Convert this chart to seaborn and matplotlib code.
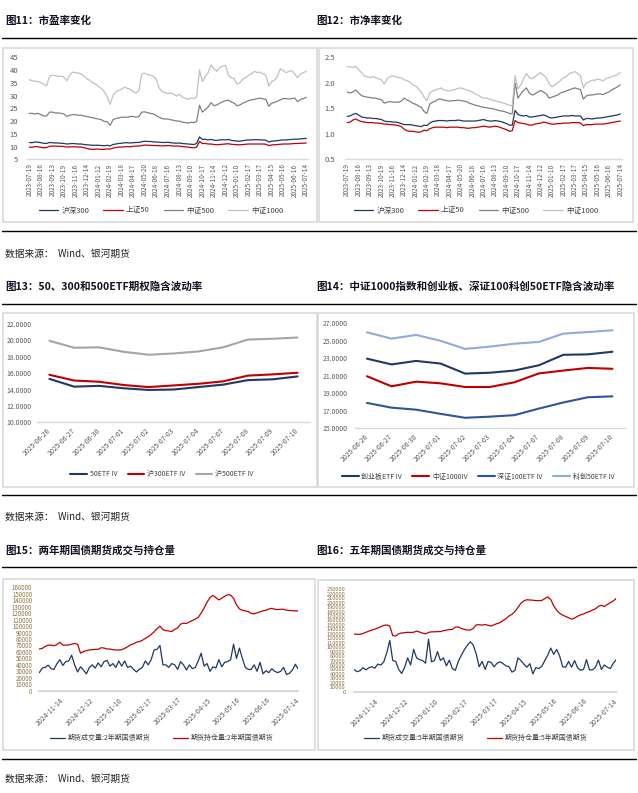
import numpy as np
import pandas as pd
import matplotlib
matplotlib.use("Agg")
import matplotlib.pyplot as plt
import seaborn as sns
from matplotlib.lines import Line2D
from matplotlib.patches import Rectangle

W, H = 638, 793

# ---------------- 图11 / 图12 : PE 与 PB（每5个交易日取一点） ----------------
day_labels_1 = ['2023-07-19', '2023-08-16', '2023-09-13', '2023-10-19', '2023-11-16',
                '2023-12-14', '2024-01-12', '2024-02-19', '2024-03-18', '2024-04-17',
                '2024-05-20', '2024-06-18', '2024-07-16', '2024-08-13', '2024-09-10',
                '2024-10-17', '2024-11-14', '2024-12-12', '2025-01-10', '2025-02-17',
                '2025-03-17', '2025-04-15', '2025-05-16', '2025-06-16', '2025-07-14']
idx_names = ['沪深300', '上证50', '中证500', '中证1000']

pe_hs300 = [11.6, 11.5, 11.8, 11.7, 11.5, 11.3, 11.2, 11.6, 11.5, 11.4,
            11.4, 11.3, 11.2, 11.0, 11.1, 11.2, 11.1, 11.0, 11.0, 10.8,
            10.7, 10.6, 10.5, 10.5, 10.5, 10.4, 10.3, 10.5, 10.2, 10.8,
            11.0, 11.2, 11.3, 11.5, 11.5, 11.4, 11.5, 11.6, 11.6, 11.9,
            12.1, 12.0, 12.0, 11.8, 11.8, 11.7, 11.6, 11.6, 11.7, 11.5,
            11.4, 11.3, 11.4, 11.2, 11.1, 11.0, 10.9, 10.8, 11.2, 13.8,
            12.8, 12.9, 12.6, 12.8, 12.5, 12.4, 12.6, 12.7, 12.6, 12.8,
            12.4, 12.3, 12.1, 12.1, 12.3, 12.5, 12.6, 12.6, 12.7, 12.7,
            12.6, 12.6, 12.5, 11.8, 12.1, 12.2, 12.3, 12.5, 12.6, 12.6,
            12.7, 12.8, 12.9, 12.9, 13.0, 13.1, 13.2]
pe_sz50 = [9.8, 9.7, 10.0, 9.9, 9.7, 9.5, 9.6, 10.1, 10.2, 10.2,
           10.1, 10.1, 10.0, 9.8, 9.9, 9.9, 9.9, 9.8, 9.8, 9.5,
           9.2, 9.0, 8.9, 9.0, 9.0, 8.9, 8.9, 9.1, 9.0, 9.4,
           9.6, 9.8, 9.8, 9.9, 10.0, 9.9, 10.1, 10.2, 10.2, 10.4,
           10.6, 10.5, 10.5, 10.4, 10.4, 10.3, 10.3, 10.3, 10.4, 10.3,
           10.2, 10.2, 10.2, 10.0, 9.9, 9.8, 9.6, 9.5, 9.8, 12.0,
           11.2, 11.2, 11.0, 11.0, 10.8, 10.7, 10.8, 10.9, 11.0, 11.1,
           10.9, 10.8, 10.7, 10.7, 10.8, 10.9, 11.0, 11.0, 11.0, 11.0,
           11.0, 11.0, 10.9, 10.4, 10.6, 10.7, 10.8, 10.9, 11.0, 11.0,
           11.0, 11.1, 11.2, 11.2, 11.3, 11.3, 11.4]
pe_zz500 = [23.0, 23.0, 22.8, 23.0, 22.5, 22.0, 22.0, 23.5, 23.5, 23.2,
            23.2, 23.0, 22.8, 21.8, 22.3, 22.5, 22.5, 22.3, 22.3, 22.0,
            21.8, 21.5, 21.3, 21.0, 20.8, 20.5, 19.8, 19.8, 18.3, 20.5,
            21.0, 21.2, 21.5, 21.5, 21.5, 21.8, 21.8, 21.5, 21.8, 23.5,
            23.6, 23.3, 23.0, 22.8, 22.2, 21.5, 21.0, 20.8, 20.8, 20.5,
            20.3, 20.0, 20.0, 19.6, 19.4, 19.2, 19.5, 19.4, 19.8, 26.2,
            23.5, 24.5, 25.5, 27.2, 26.0, 26.3, 27.0, 27.5, 28.0, 28.2,
            27.5, 27.0, 26.0, 26.3, 27.0, 27.5, 28.0, 28.3, 28.5, 28.8,
            29.0, 28.7, 28.5, 25.8, 27.0, 27.3, 27.8, 28.3, 28.8, 28.8,
            28.6, 28.8, 29.0, 27.6, 28.5, 28.8, 29.3]
pe_zz1000 = [36.2, 35.8, 35.6, 35.5, 35.0, 34.5, 33.8, 37.5, 38.0, 37.8,
             37.5, 37.6, 37.2, 35.8, 38.0, 39.2, 39.0, 38.8, 38.5, 37.5,
             36.5, 36.0, 35.0, 34.5, 33.5, 32.8, 31.5, 29.5, 26.5, 30.0,
             31.5, 32.0, 32.5, 33.3, 32.8, 32.5, 31.5, 31.0, 32.0, 38.5,
             38.8, 38.2, 38.0, 37.5, 36.5, 33.0, 31.5, 31.2, 30.8, 31.0,
             30.5, 29.8, 30.5, 29.5, 29.0, 28.5, 29.0, 28.8, 29.5, 40.0,
             35.5, 37.5, 39.0, 42.0, 40.5, 39.5, 41.0, 41.5, 41.8, 38.0,
             37.0, 36.5, 34.5, 35.0, 36.5, 37.0, 38.0, 38.5, 39.5, 39.0,
             39.2, 38.5, 38.0, 33.8, 35.5, 36.0, 37.5, 40.5, 39.8, 39.0,
             39.5, 39.8, 38.5, 37.0, 38.5, 39.0, 39.5]

pb_hs300 = [1.34, 1.35, 1.38, 1.40, 1.37, 1.33, 1.32, 1.31, 1.31, 1.30,
            1.30, 1.29, 1.28, 1.25, 1.24, 1.24, 1.23, 1.23, 1.22, 1.20,
            1.18, 1.18, 1.18, 1.17, 1.16, 1.15, 1.14, 1.17, 1.16, 1.21,
            1.24, 1.25, 1.26, 1.26, 1.26, 1.25, 1.26, 1.26, 1.26, 1.27,
            1.26, 1.25, 1.25, 1.25, 1.25, 1.25, 1.26, 1.27, 1.28, 1.26,
            1.25, 1.25, 1.26, 1.25, 1.24, 1.22, 1.20, 1.17, 1.17, 1.46,
            1.38, 1.36, 1.35, 1.36, 1.33, 1.33, 1.34, 1.35, 1.36, 1.37,
            1.35, 1.32, 1.31, 1.32, 1.33, 1.34, 1.35, 1.35, 1.35, 1.36,
            1.35, 1.35, 1.35, 1.27, 1.30, 1.30, 1.29, 1.30, 1.31, 1.31,
            1.32, 1.33, 1.34, 1.35, 1.36, 1.37, 1.39]
pb_sz50 = [1.22, 1.23, 1.27, 1.29, 1.26, 1.24, 1.23, 1.22, 1.22, 1.22,
           1.21, 1.21, 1.20, 1.19, 1.19, 1.18, 1.18, 1.17, 1.16, 1.14,
           1.09, 1.06, 1.05, 1.05, 1.04, 1.03, 1.04, 1.07, 1.06, 1.10,
           1.12, 1.13, 1.13, 1.13, 1.13, 1.12, 1.13, 1.13, 1.13, 1.13,
           1.12, 1.12, 1.11, 1.11, 1.12, 1.12, 1.13, 1.14, 1.15, 1.14,
           1.13, 1.14, 1.15, 1.14, 1.12, 1.10, 1.08, 1.05, 1.06, 1.26,
           1.22, 1.21, 1.20, 1.19, 1.17, 1.17, 1.19, 1.20, 1.21, 1.23,
           1.22, 1.20, 1.19, 1.19, 1.20, 1.20, 1.21, 1.21, 1.21, 1.22,
           1.22, 1.22, 1.21, 1.16, 1.18, 1.18, 1.18, 1.19, 1.19, 1.19,
           1.19, 1.20, 1.21, 1.22, 1.23, 1.24, 1.25]
pb_zz500 = [1.82, 1.80, 1.82, 1.86, 1.80, 1.75, 1.73, 1.72, 1.71, 1.70,
            1.70, 1.68, 1.67, 1.60, 1.62, 1.63, 1.62, 1.62, 1.62, 1.64,
            1.70, 1.66, 1.64, 1.60, 1.58, 1.55, 1.52, 1.44, 1.40, 1.58,
            1.62, 1.64, 1.68, 1.68, 1.66, 1.65, 1.64, 1.65, 1.65, 1.66,
            1.65, 1.64, 1.63, 1.60, 1.58, 1.56, 1.55, 1.53, 1.52, 1.51,
            1.50, 1.49, 1.48, 1.46, 1.45, 1.44, 1.42, 1.40, 1.39, 2.00,
            1.70, 1.78, 1.85, 1.90, 1.80, 1.76, 1.78, 1.82, 1.85, 1.82,
            1.78, 1.70, 1.72, 1.74, 1.76, 1.80, 1.82, 1.84, 1.86, 1.88,
            1.90, 1.88, 1.87, 1.68, 1.74, 1.76, 1.76, 1.77, 1.78, 1.78,
            1.77, 1.80, 1.82, 1.86, 1.89, 1.92, 1.96]
pb_zz1000 = [2.32, 2.31, 2.30, 2.32, 2.26, 2.20, 2.14, 2.12, 2.10, 2.12,
             2.10, 2.08, 2.06, 1.98, 2.08, 2.12, 2.14, 2.12, 2.10, 2.10,
             2.06, 2.04, 2.02, 1.96, 1.94, 1.88, 1.82, 1.72, 1.65, 1.80,
             1.84, 1.86, 1.88, 1.90, 1.86, 1.85, 1.84, 1.86, 1.87, 1.89,
             1.90, 1.88, 1.86, 1.84, 1.82, 1.78, 1.76, 1.72, 1.70, 1.70,
             1.68, 1.66, 1.65, 1.63, 1.62, 1.60, 1.58, 1.56, 1.55, 2.14,
             1.88, 1.96, 2.08, 2.18, 2.10, 2.08, 2.12, 2.16, 2.20, 2.15,
             2.10, 1.98, 1.92, 1.96, 2.00, 2.05, 2.10, 2.12, 2.18, 2.20,
             2.22, 2.18, 2.14, 1.90, 2.00, 2.02, 2.05, 2.05, 2.07, 2.06,
             2.04, 2.08, 2.10, 2.12, 2.14, 2.16, 2.20]

# ---------------- 图13 / 图14 : 隐含波动率 ----------------
iv_dates = ['2025-06-26', '2025-06-27', '2025-06-30', '2025-07-01', '2025-07-02', '2025-07-03',
            '2025-07-04', '2025-07-07', '2025-07-08', '2025-07-09', '2025-07-10']
iv_50etf = [15.3, 14.35, 14.45, 14.15, 13.95, 14.0, 14.3, 14.6, 15.15, 15.25, 15.6]
iv_300etf = [15.8, 15.1, 14.95, 14.55, 14.3, 14.5, 14.7, 15.0, 15.7, 15.85, 16.05]
iv_500etf = [19.95, 19.1, 19.15, 18.6, 18.25, 18.4, 18.65, 19.15, 20.1, 20.2, 20.35]
iv_cyb = [22.96, 22.3, 22.7, 22.4, 21.25, 21.35, 21.6, 22.2, 23.4, 23.45, 23.75]
iv_zz1000 = [20.95, 19.8, 20.33, 20.14, 19.72, 19.72, 20.25, 21.27, 21.6, 21.9, 21.8]
iv_sz100 = [17.9, 17.36, 17.13, 16.65, 16.2, 16.33, 16.5, 17.25, 17.95, 18.55, 18.65]
iv_kc50 = [25.97, 25.25, 25.67, 25.0, 24.07, 24.33, 24.67, 24.87, 25.82, 26.0, 26.2]

# ---------------- 图15 / 图16 : 国债期货成交与持仓（每2个交易日取一点） ----------------
bond_labels = ['2024-11-14', '2024-12-12', '2025-01-10', '2025-02-17', '2025-03-17',
               '2025-04-15', '2025-05-16', '2025-06-16', '2025-07-14']
vol_2y = [28000, 35000, 36000, 39500, 34000, 33000, 42000, 48000, 39000, 45000,
          46000, 55000, 40000, 29000, 37000, 32000, 26000, 36000, 40000, 35000,
          43000, 37000, 45000, 47000, 38000, 42000, 36000, 46000, 38000, 46000,
          36000, 38000, 33000, 29000, 33000, 36000, 46000, 40000, 48000, 63000,
          64000, 70000, 40000, 40000, 36000, 42000, 40000, 33000, 45000, 40000,
          32000, 40000, 34000, 36000, 46000, 58000, 38000, 42000, 30000, 37000,
          35000, 48000, 37000, 44000, 45000, 48000, 72000, 50000, 66000, 50000,
          36000, 33000, 33000, 40000, 30000, 44000, 26000, 31000, 28000, 34000,
          30000, 28000, 30000, 36000, 25000, 27000, 32000, 41000, 33000]
oi_2y = [64500, 65500, 68500, 70500, 70500, 69500, 71500, 75000, 70500, 70500,
         70800, 72000, 73000, 72000, 58000, 60500, 62000, 63000, 63500, 64000,
         64000, 66500, 66000, 64500, 64500, 63500, 63000, 63000, 63500, 65500,
         68000, 71000, 72500, 75000, 76000, 78000, 81000, 83500, 87000, 91000,
         96000, 100000, 94500, 93000, 92500, 91500, 95000, 97000, 103000, 104500,
         104000, 106500, 108500, 111000, 113500, 120000, 128000, 137000, 144000, 147500,
         144000, 140500, 143000, 146000, 148500, 148000, 143000, 133000, 126500, 124500,
         123500, 122500, 119500, 119000, 120500, 122000, 123500, 124500, 126500, 127500,
         126000, 125500, 126000, 126000, 124500, 124000, 124000, 123500, 123500]
vol_5y = [50000, 45000, 47000, 54000, 49000, 54000, 56000, 53000, 62000, 60000,
          67000, 88000, 115000, 70000, 68000, 50000, 41000, 55000, 76000, 60000,
          95000, 76000, 72000, 70000, 64000, 118000, 67000, 70000, 90000, 70000,
          76000, 58000, 71000, 52000, 48000, 68000, 82000, 94000, 104000, 112000,
          105000, 85000, 56000, 68000, 50000, 68000, 66000, 56000, 64000, 67000,
          63000, 58000, 56000, 44000, 48000, 76000, 70000, 62000, 55000, 63000,
          40000, 54000, 52000, 57000, 70000, 82000, 98000, 84000, 95000, 80000,
          56000, 55000, 68000, 55000, 70000, 54000, 48000, 50000, 72000, 49000,
          49000, 55000, 71000, 50000, 60000, 55000, 52000, 64000, 72000]
oi_5y = [129500, 129000, 128800, 130500, 133500, 136000, 138500, 140500, 143000, 146000,
         149000, 150000, 147500, 126000, 125000, 130000, 132000, 132500, 133500, 133000,
         133500, 136000, 134000, 131500, 130000, 133000, 134500, 134500, 135000, 135000,
         137000, 138500, 139500, 140000, 145000, 145500, 142000, 140000, 138500, 138500,
         142000, 150000, 150500, 149500, 151000, 149000, 147500, 150500, 153000, 155000,
         160000, 164000, 170000, 174000, 180000, 189000, 199000, 204000, 206500, 206000,
         205500, 204500, 204500, 205000, 209000, 213000, 207000, 193000, 183000, 176000,
         172000, 169000, 166000, 163000, 165500, 169500, 172500, 174500, 178000, 180000,
         183500, 186000, 192000, 194000, 191500, 196000, 200000, 204000, 209500]

NAVY, RED, GREY, LGREY = '#1f3864', '#c00000', '#808080', '#c0c0c0'
TICK_C = '#595959'

sns.set_style("white")
plt.rcParams['font.family'] = ['Noto Sans CJK SC', 'DejaVu Sans']
plt.rcParams['axes.unicode_minus'] = False

fig = plt.figure(figsize=(W / 100, H / 100), dpi=100)


def fx(x):
    return x / W


def fy(y):
    return 1 - y / H


def px_axes(l, t, r, b):
    ax = fig.add_axes([fx(l), fy(b), (r - l) / W, (b - t) / H])
    ax.patch.set_alpha(0)
    return ax


def hrule(y):
    fig.add_artist(Line2D([fx(2), fx(636)], [fy(y), fy(y)], color='black', lw=1.0))


def frame(x0, y0, x1, y1):
    fig.add_artist(Rectangle((fx(x0), fy(y1)), (x1 - x0) / W, (y1 - y0) / H,
                             fill=False, ec='#d9d9d9', lw=1.2))


def draw(ax, step, series, names, colors, lw):
    parts = []
    for name, vals in zip(names, series):
        parts.append(pd.DataFrame({'x': np.arange(len(vals)) * step, 'v': vals, 's': name}))
    df = pd.concat(parts, ignore_index=True)
    sns.lineplot(data=df, x='x', y='v', hue='s', hue_order=names, palette=colors,
                 linewidth=lw, estimator=None, ax=ax)
    ax.set_xlabel('')
    ax.set_ylabel('')


def tidy(ax, ylim, yticks, yfmt, ycolor, yfs, ypad):
    ax.set_ylim(ylim)
    ax.set_yticks(yticks)
    ax.set_yticklabels([yfmt.format(v) for v in yticks], fontsize=yfs, color=ycolor)
    for s in ['top', 'right', 'left']:
        ax.spines[s].set_visible(False)
    ax.spines['bottom'].set_color('#d9d9d9')
    ax.spines['bottom'].set_linewidth(1.0)
    ax.tick_params(axis='both', length=0)
    ax.tick_params(axis='y', pad=ypad)
    ax.grid(False)


def legend(ax, cx, cy, fs, hl, cs):
    sns.move_legend(ax, 'center', bbox_to_anchor=(fx(cx), fy(cy)), bbox_transform=fig.transFigure,
                    ncol=4, frameon=False, title=None, fontsize=fs, handlelength=hl,
                    columnspacing=cs, handletextpad=0.4, labelcolor='#404040')


# ---- section lines, frames, titles ----
for y in [38.3, 231, 304.3, 495, 567.3, 759.3]:
    hrule(y)
frame(3, 48, 317, 222)
frame(319, 48, 633, 222)
frame(3, 313.3, 317, 487)
frame(318, 313.3, 634, 487)
frame(3, 579.3, 315, 750)
frame(318, 580, 634, 750)

tkw = dict(fontsize=7.6, fontweight='bold', va='center', color='#111122')
fig.text(fx(5), fy(20.7), '图11：市盈率变化', **tkw)
fig.text(fx(316), fy(20.7), '图12：市净率变化', **tkw)
fig.text(fx(5), fy(286.7), '图13：50、300和500ETF期权隐含波动率', **tkw)
fig.text(fx(316), fy(286.7), '图14：中证1000指数和创业板、深证100科创50ETF隐含波动率', **tkw)
fig.text(fx(5), fy(550), '图15：两年期国债期货成交与持仓量', **tkw)
fig.text(fx(316), fy(550), '图16：五年期国债期货成交与持仓量', **tkw)
for y in [254, 517, 779]:
    fig.text(fx(5), fy(y), '数据来源：  Wind、银河期货', fontsize=7, va='center', color='#222222')

# ---- 图11 ----
ax1 = px_axes(26.7, 57.3, 308, 159.3)
draw(ax1, 5, [pe_hs300, pe_sz50, pe_zz500, pe_zz1000], idx_names, [NAVY, RED, GREY, LGREY], 0.9)
ax1.set_xlim(-4.5, 483)
ax1.set_xticks(np.arange(len(day_labels_1)) * 20)
ax1.set_xticklabels(day_labels_1, rotation=90, fontsize=4.6, color=TICK_C)
tidy(ax1, (5, 45), list(range(5, 46, 5)), '{:d}', TICK_C, 5.5, 6)
ax1.tick_params(axis='x', pad=3)
legend(ax1, 161, 210.5, 5.5, 2.6, 1.8)

# ---- 图12 ----
ax2 = px_axes(344.7, 57.3, 622, 159.3)
draw(ax2, 5, [pb_hs300, pb_sz50, pb_zz500, pb_zz1000], idx_names, [NAVY, RED, GREY, LGREY], 0.9)
ax2.set_xlim(-4.5, 483)
ax2.set_xticks(np.arange(len(day_labels_1)) * 20)
ax2.set_xticklabels(day_labels_1, rotation=90, fontsize=4.6, color=TICK_C)
tidy(ax2, (0.5, 2.5), [0.5, 1.0, 1.5, 2.0, 2.5], '{:.1f}', TICK_C, 5.5, 7)
ax2.tick_params(axis='x', pad=3)
legend(ax2, 476, 210.5, 5.5, 2.6, 1.8)

# ---- 图13 ----
ax3 = px_axes(37, 324, 310, 422.3)
draw(ax3, 1, [iv_50etf, iv_300etf, iv_500etf], ['50ETF IV', '沪300ETF IV', '沪500ETF IV'],
     [NAVY, RED, '#a5a5a5'], 1.5)
ax3.set_xlim(-0.5, 10.5)
ax3.set_xticks(range(len(iv_dates)))
ax3.set_xticklabels(iv_dates, rotation=45, ha='right', va='center', rotation_mode='anchor',
                    fontsize=4.9, color=TICK_C)
tidy(ax3, (10, 22), list(range(10, 23, 2)), '{:.4f}', TICK_C, 4.9, 4)
ax3.tick_params(axis='x', pad=5)
legend(ax3, 162, 474.3, 5, 2.4, 1.5)

# ---- 图14 ----
ax4 = px_axes(354.7, 323.3, 624.7, 428.3)
draw(ax4, 1, [iv_cyb, iv_zz1000, iv_sz100, iv_kc50],
     ['创业板ETF IV', '中证1000IV', '深证100ETF IV', '科创50ETF IV'],
     ['#1f3864', RED, '#2f5597', '#8faadc'], 1.5)
ax4.set_xlim(-0.5, 10.5)
ax4.set_xticks(range(len(iv_dates)))
ax4.set_xticklabels(iv_dates, rotation=45, ha='right', va='center', rotation_mode='anchor',
                    fontsize=4.9, color=TICK_C)
tidy(ax4, (15, 27), list(range(15, 28, 2)), '{:.4f}', TICK_C, 4.9, 5)
ax4.tick_params(axis='x', pad=5)
legend(ax4, 478, 476.7, 5, 2.4, 1.5)

# ---- 图15 ----
ORANGE_T = '#8c7040'
ax5 = px_axes(39.3, 587.3, 298.3, 690.7)
draw(ax5, 2, [vol_2y, oi_2y], ['期货成交量:2年期国债期货', '期货持仓量:2年期国债期货'], [NAVY, RED], 0.9)
ax5.set_xlim(0, 176)
ax5.set_xticks(16 + np.arange(len(bond_labels)) * 20)
ax5.set_xticklabels(bond_labels, rotation=45, ha='right', va='center', rotation_mode='anchor',
                    fontsize=4.9, color=TICK_C)
tidy(ax5, (0, 160000), list(range(0, 160001, 10000)), '{:d}', ORANGE_T, 4.4, 5)
ax5.spines['bottom'].set_linewidth(1.5)
ax5.tick_params(axis='x', pad=6)
legend(ax5, 162, 738, 5, 2.2, 3.2)

# ---- 图16 ----
ax6 = px_axes(354, 589.3, 616.3, 691.7)
draw(ax6, 2, [vol_5y, oi_5y], ['期货成交量:5年期国债期货', '期货持仓量:5年期国债期货'], [NAVY, RED], 0.9)
ax6.set_xlim(0, 176)
ax6.set_xticks(16 + np.arange(len(bond_labels)) * 20)
ax6.set_xticklabels(bond_labels, rotation=45, ha='right', va='center', rotation_mode='anchor',
                    fontsize=4.9, color=TICK_C)
tidy(ax6, (0, 230000), list(range(0, 230001, 10000)), '{:d}', ORANGE_T, 4.1, 6)
ax6.spines['bottom'].set_linewidth(1.5)
ax6.tick_params(axis='x', pad=6)
legend(ax6, 476, 738, 5, 2.2, 3.2)

fig.savefig('out.png', dpi=100)
